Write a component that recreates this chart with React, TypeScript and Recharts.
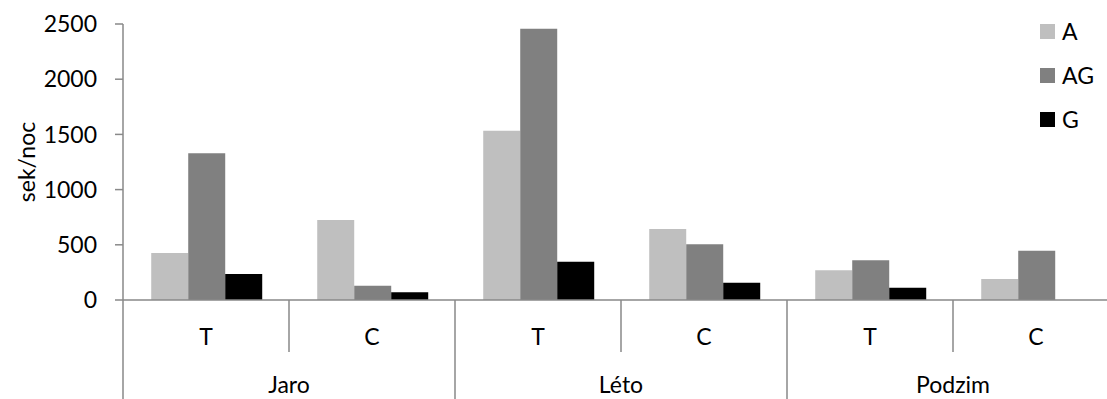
import React from 'react';
import { BarChart, Bar, XAxis, YAxis } from 'recharts';

const categories = ['T', 'C', 'T', 'C', 'T', 'C'];
const seasons = ['Jaro', 'Léto', 'Podzim'];
const seriesA = [425, 725, 1534, 643, 269, 190];
const seriesAG = [1329, 130, 2458, 504, 359, 447];
const seriesG = [236, 70, 347, 157, 112, 0];
const yTicks = [0, 500, 1000, 1500, 2000, 2500];

const series = [
  { key: 'A', color: '#bfbfbf' },
  { key: 'AG', color: '#808080' },
  { key: 'G', color: '#000000' },
];

const data = categories.map((sub, i) => ({
  name: `${seasons[Math.floor(i / 2)]}-${sub}`,
  sub,
  season: seasons[Math.floor(i / 2)],
  A: seriesA[i],
  AG: seriesAG[i],
  G: seriesG[i],
}));

// layout (the plot runs a bit past the right edge of the window and is clipped)
const CHART_W = 1119;
const CHART_H = 399;
const AXIS_W = 123;
const TOP = 24;
const X_AXIS_H = 99;
const BAND = (CHART_W - AXIS_W) / categories.length;

const FONT = 'Lato, "Open Sans", sans-serif';
const FONT_SIZE = 23;
const AXIS_COLOR = '#898989';
const TEXT_COLOR = '#000';

const CategoryTick = (props: any) => {
  const { x, y, index } = props;
  const left = x - BAND / 2;
  const groupStart = index % 2 === 0;
  const last = index === categories.length - 1;
  return (
    <g>
      <line x1={left} y1={y} x2={left} y2={groupStart ? CHART_H : y + 52} stroke={AXIS_COLOR} strokeWidth={1.5} />
      {last && <line x1={x + BAND / 2} y1={y} x2={x + BAND / 2} y2={CHART_H} stroke={AXIS_COLOR} strokeWidth={1.5} />}
      <text x={x} y={y + 36} textAnchor="middle" dominantBaseline="central" fontFamily={FONT} fontSize={FONT_SIZE} fill={TEXT_COLOR}>
        {data[index].sub}
      </text>
      {groupStart && (
        <text x={left + BAND} y={y + 84} textAnchor="middle" dominantBaseline="central" fontFamily={FONT} fontSize={FONT_SIZE} fill={TEXT_COLOR}>
          {data[index].season}
        </text>
      )}
    </g>
  );
};

const LegendBox = () => (
  <div style={{ position: 'absolute', left: 1040, top: 9, fontFamily: FONT, fontSize: FONT_SIZE, color: TEXT_COLOR }}>
    {series.map((s) => (
      <div key={s.key} style={{ display: 'flex', alignItems: 'center', height: 44 }}>
        <span style={{ width: 15, height: 15, background: s.color, marginRight: 7, display: 'inline-block' }} />
        <span>{s.key}</span>
      </div>
    ))}
  </div>
);

const plotMid = TOP + (CHART_H - TOP - X_AXIS_H) / 2;

export default function App() {
  return (
    <div style={{ position: 'fixed', left: 0, top: 0, width: 1107, height: 399, overflow: 'hidden', background: '#fff' }}>
      <BarChart
        width={CHART_W}
        height={CHART_H}
        data={data}
        margin={{ top: TOP, right: 0, bottom: 0, left: 0 }}
        barCategoryGap="17%"
        barGap={0}
      >
        <XAxis
          dataKey="name"
          height={X_AXIS_H}
          interval={0}
          tickSize={0}
          tickMargin={0}
          tickLine={false}
          axisLine={{ stroke: AXIS_COLOR, strokeWidth: 1.5 }}
          tick={<CategoryTick />}
        />
        <YAxis
          width={AXIS_W}
          domain={[0, 2500]}
          ticks={yTicks}
          interval={0}
          tickSize={8}
          tickMargin={18}
          axisLine={{ stroke: AXIS_COLOR, strokeWidth: 1.5 }}
          tickLine={{ stroke: AXIS_COLOR, strokeWidth: 1.5 }}
          tick={{ fontFamily: FONT, fontSize: FONT_SIZE, fill: TEXT_COLOR }}
          label={{
            content: () => (
              <text
                x={26}
                y={plotMid}
                transform={`rotate(-90 26 ${plotMid})`}
                textAnchor="middle"
                dominantBaseline="central"
                fontFamily={FONT}
                fontSize={FONT_SIZE}
                fill={TEXT_COLOR}
              >
                sek/noc
              </text>
            ),
          }}
        />
        {series.map((s) => (
          <Bar key={s.key} dataKey={s.key} fill={s.color} isAnimationActive={false} />
        ))}
      </BarChart>
      <LegendBox />
    </div>
  );
}
